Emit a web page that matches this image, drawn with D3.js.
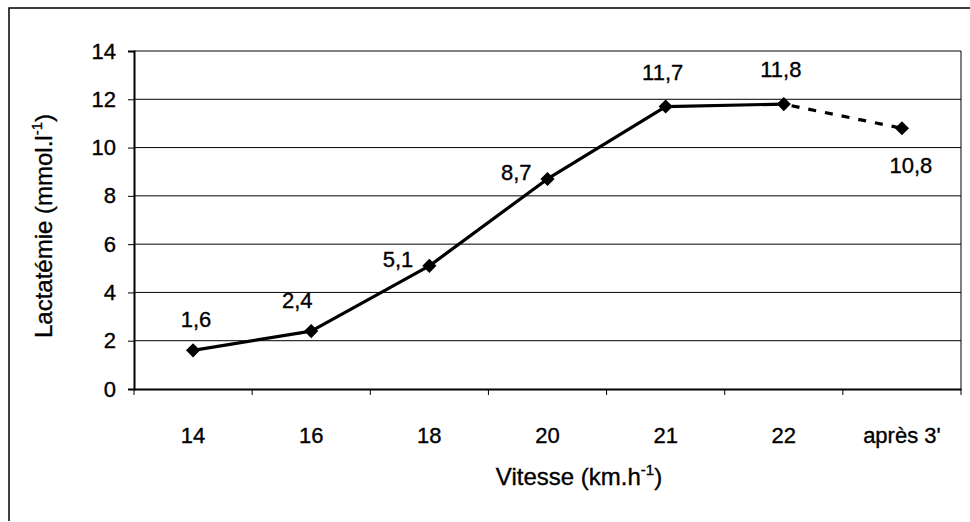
<!DOCTYPE html>
<html><head><meta charset="utf-8">
<script src="https://cdn.jsdelivr.net/npm/d3@7"></script>
<style>
html,body{margin:0;padding:0;background:#fff;}
text{font-family:"Liberation Sans",Arial,sans-serif;fill:#000;stroke:#000;stroke-width:0.35px;}
</style></head>
<body><svg id="c" width="970" height="522"></svg>
<script>
const categories = ["14","16","18","20","21","22","après 3'"];
const lactate = [1.6, 2.4, 5.1, 8.7, 11.7, 11.8, 10.8];
const valueLabels = ["1,6","2,4","5,1","8,7","11,7","11,8","10,8"];
const yTicks = [0,2,4,6,8,10,12,14];
const labelSide = ["above","above","left","left","above","above","below"];

const svg = d3.select("#c");
const L = 134, R = 961, T = 51, B = 389;
const FS = 22, TFS = 24;

// outer frame
svg.append("path").attr("d","M9,521 L9,8 L970,8").attr("fill","none").attr("stroke","#000").attr("stroke-width",1.5);

const x = d3.scaleBand().domain(categories).range([L,R]);
const y = d3.scaleLinear().domain([0,14]).range([B,T]);

// gridlines
svg.append("g").selectAll("line").data(yTicks.filter(d=>d>0)).join("line")
  .attr("x1",L).attr("x2",R).attr("y1",d=>y(d)).attr("y2",d=>y(d))
  .attr("stroke","#000").attr("stroke-width",1);
svg.append("line").attr("x1",R).attr("x2",R).attr("y1",T).attr("y2",B).attr("stroke","#000").attr("stroke-width",1);

// y axis
const ya = svg.append("g").attr("transform",`translate(${L},0)`)
  .call(d3.axisLeft(y).tickValues(yTicks).tickSize(6).tickPadding(12).tickFormat(d=>d));
ya.select(".domain").attr("stroke-width",2);
ya.selectAll("text").attr("font-size",FS).style("font-family","Liberation Sans, Arial");

// x axis
const xa = svg.append("g").attr("transform",`translate(0,${B})`)
  .call(d3.axisBottom(x).tickSize(0).tickPadding(38));
xa.select(".domain").attr("stroke-width",2);
xa.selectAll("text").attr("font-size",FS).style("font-family","Liberation Sans, Arial");
svg.append("g").selectAll("line").data(d3.range(categories.length+1))
  .join("line")
  .attr("x1",i=>L+i*x.step()).attr("x2",i=>L+i*x.step())
  .attr("y1",B).attr("y2",B+6).attr("stroke","#000").attr("stroke-width",1);

const cx = c => x(c)+x.bandwidth()/2;
const pts = categories.map((c,i)=>[cx(c), y(lactate[i])]);
const line = d3.line();
svg.append("path").attr("d", line(pts.slice(0,6))).attr("fill","none")
  .attr("stroke","#000").attr("stroke-width",3.2).attr("stroke-linejoin","round");
svg.append("path").attr("d", line(pts.slice(5))).attr("fill","none")
  .attr("stroke","#000").attr("stroke-width",3.2).attr("stroke-dasharray","8,9").attr("stroke-dashoffset",-8);

svg.append("g").selectAll("path").data(pts).join("path")
  .attr("d", d3.symbol(d3.symbolSquare, 100))
  .attr("transform", d=>`translate(${d[0]},${d[1]}) rotate(45)`).attr("fill","#000");

svg.append("g").selectAll("text").data(pts).join("text")
  .attr("x",(d,i)=> labelSide[i]==="left" ? d[0]-16 : d[0]+ (i===0?3:i===1?-14:i===6?9:-3))
  .attr("y",(d,i)=> labelSide[i]==="below" ? d[1]+45 : labelSide[i]==="left" ? d[1]+1 : (i>=4 ? d[1]-27 : d[1]-23))
  .attr("text-anchor",(d,i)=> labelSide[i]==="left" ? "end" : "middle")
  .attr("font-size",FS)
  .text((d,i)=>valueLabels[i]);

// axis titles
svg.append("text").attr("x",579).attr("y",485).attr("text-anchor","middle").attr("font-size",TFS)
  .html('Vitesse (km.h<tspan dy="-10" font-size="15">-1</tspan><tspan dy="10">)</tspan>');
svg.append("text").attr("transform","translate(52,226) rotate(-90)").attr("text-anchor","middle").attr("font-size",TFS)
  .html('Lactatémie (mmol.l<tspan dy="-10" font-size="15">-1</tspan><tspan dy="10">)</tspan>');
</script></body></html>
